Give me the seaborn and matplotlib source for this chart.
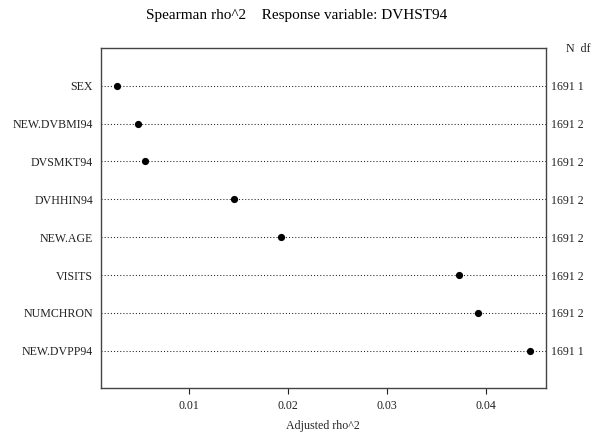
import matplotlib
matplotlib.use("Agg")
import matplotlib.pyplot as plt
import seaborn as sns
import pandas as pd

# ---- data ----
variables = ["SEX", "NEW.DVBMI94", "DVSMKT94", "DVHHIN94", "NEW.AGE",
             "VISITS", "NUMCHRON", "NEW.DVPP94"]
rho2 = [0.00278, 0.00489, 0.00559, 0.01457, 0.01932, 0.03733, 0.03916, 0.04447]
n_obs = [1691, 1691, 1691, 1691, 1691, 1691, 1691, 1691]
dfs = [1, 2, 2, 2, 2, 2, 2, 1]
x_ticks = [0.01, 0.02, 0.03, 0.04]
x_tick_labels = ["0.01", "0.02", "0.03", "0.04"]
title_text = "Spearman rho^2    Response variable: DVHST94"
x_label = "Adjusted rho^2"

sns.set_theme(style="white")
plt.rcParams["font.family"] = ["Liberation Serif", "DejaVu Serif"]

W, H = 594, 440
fig = plt.figure(figsize=(W / 100, H / 100), dpi=100)
ax = fig.add_axes([100.7 / W, 1 - 388 / H, 445 / W, (388 - 48.5) / H])

df = pd.DataFrame({"variable": variables, "rho2": rho2})
sns.stripplot(data=df, x="rho2", y="variable", order=variables, jitter=False,
              color="black", size=5.2, linewidth=0, ax=ax, zorder=3)

ax.set_xlim(0.00114, 0.04603)
ax.set_ylim(len(variables) - 1 + 0.98, -0.98)
ax.set_yticks(range(len(variables)))
ax.set_yticklabels(variables, fontsize=8.6)
ax.set_xticks(x_ticks)
ax.set_xticklabels(x_tick_labels, fontsize=8.6)
ax.set_ylabel("")
ax.set_xlabel(x_label, fontsize=8.6, labelpad=6)

ax.grid(True, axis="y", color="#222222", linestyle=(0, (1, 2)), linewidth=0.75)
ax.grid(False, axis="x")
ax.set_axisbelow(True)

ax.tick_params(axis="y", length=0, pad=5.5, colors="#222222")
ax.tick_params(axis="x", length=4.5, width=0.8, direction="out", pad=4,
               colors="#222222", bottom=True)
for s in ax.spines.values():
    s.set_visible(True)
    s.set_color("#444444")
    s.set_linewidth(1.0)

ax2 = ax.twinx()
ax2.set_ylim(ax.get_ylim())
ax2.set_yticks(range(len(variables)))
ax2.set_yticklabels([f"{n} {d}" for n, d in zip(n_obs, dfs)], fontsize=8.6)
ax2.tick_params(axis="y", length=0, pad=3.5, colors="#222222")
for s in ax2.spines.values():
    s.set_visible(False)

fig.text(566 / W, 1 - 49 / H, "N  df", fontsize=8.6, ha="left", va="center",
         color="#222222")
fig.text(297 / W, 1 - 16 / H, title_text, fontsize=11, ha="center",
         va="center", color="black")

fig.savefig("out.png", dpi=100)
